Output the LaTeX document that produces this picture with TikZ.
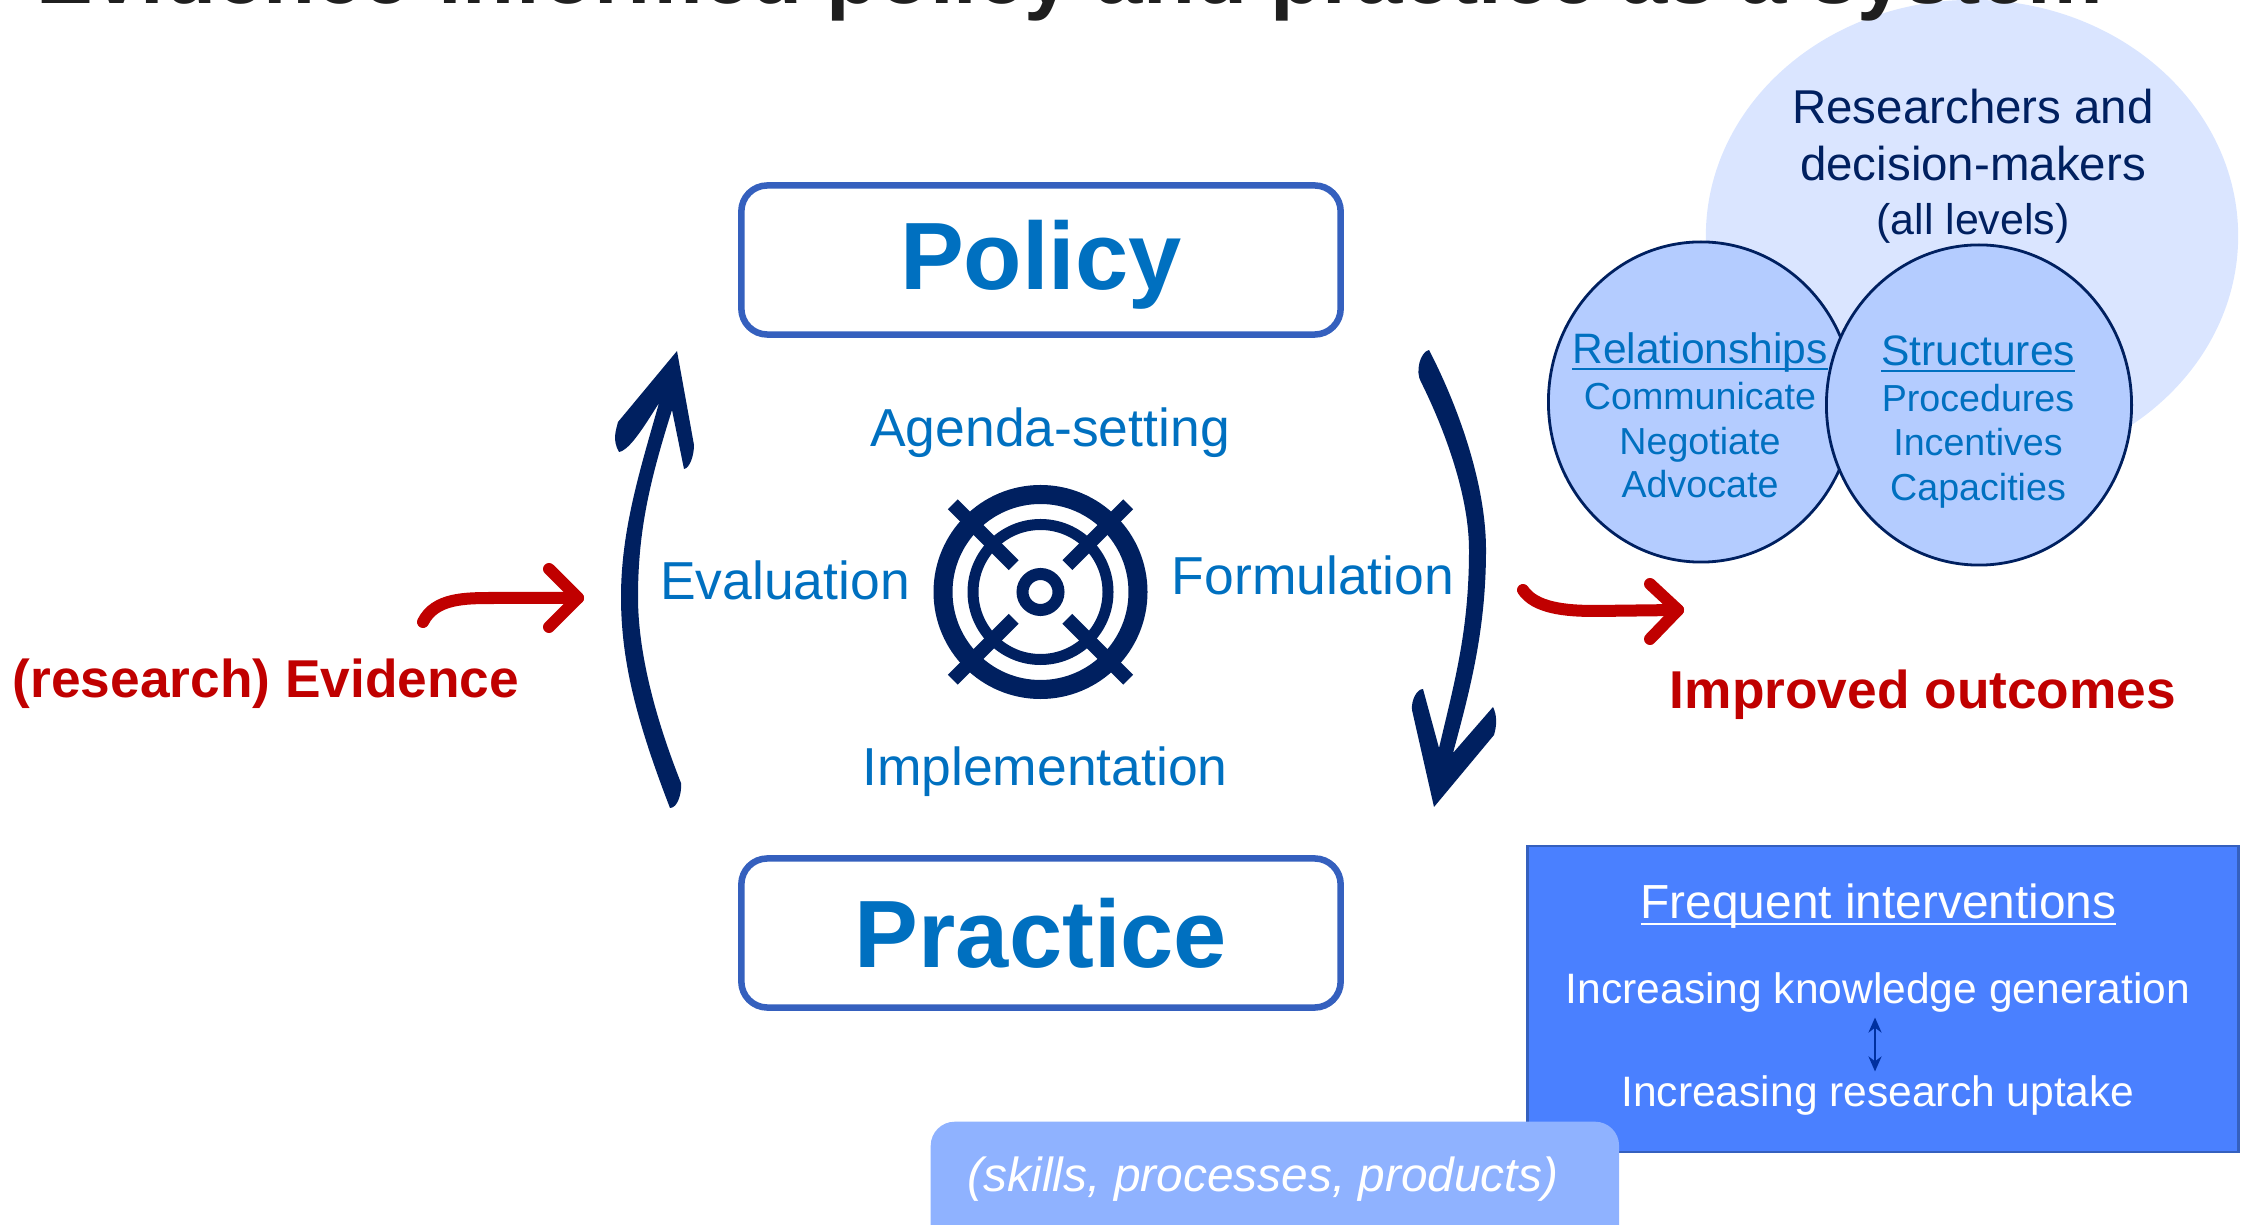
\documentclass[tikz,border=0pt]{standalone}
\usepackage{fontspec}
\setmainfont{Liberation Sans}
\usepackage{tikz}
\usetikzlibrary{arrows.meta, calc, shapes.geometric}
\definecolor{navy}{HTML}{002060}
\definecolor{textblue}{HTML}{0070C0}
\definecolor{edgeblue}{HTML}{3560BE}
\definecolor{evired}{HTML}{C00000}
\definecolor{palecircle}{HTML}{DAE5FF}
\definecolor{midcircle}{HTML}{B4CCFF}
\definecolor{boxblue}{HTML}{4A80FF}
\definecolor{softbox}{HTML}{8FB2FF}
\definecolor{uparrow}{HTML}{0030A0}
\newcommand{\ulined}[1]{\underline{\smash{#1}}}
\tikzset{
  txt/.style = {anchor=base, inner sep=0pt, align=center},
  stage/.style = {txt, text=textblue, font=\fontsize{15.2}{18}\selectfont},
  boxtitle/.style = {draw=edgeblue, line width=0.065cm, fill=white, rounded corners=0.26cm,
    minimum width=5.99cm, minimum height=1.49cm, inner sep=0pt, text=textblue,
    font=\fontsize{27.2}{32}\selectfont\bfseries},
  outcome/.style = {txt, text=evired, font=\fontsize{15.15}{18}\selectfont\bfseries},
  who/.style = {txt, text=navy, font=\fontsize{13.5}{16}\selectfont},
  ringhead/.style = {txt, text=textblue, font=\fontsize{12.1}{14}\selectfont},
  ringitem/.style = {txt, text=textblue, font=\fontsize{10.7}{13}\selectfont},
  ringcircle/.style = {ellipse, draw=navy, line width=0.028cm, fill=midcircle, inner sep=0pt,
    minimum width=3.05cm, minimum height=3.2cm},
  interv/.style = {txt, text=white, font=\fontsize{12.1}{14}\selectfont},
  brush/.style = {fill=navy, draw=none},
  redarrow/.style = {draw=evired, line width=0.12cm, line cap=round, line join=round}
}
\begin{document}
\begin{tikzpicture}[x=0.01cm, y=-0.01cm]
\useasboundingbox (0,0) rectangle (2248,1225);
\clip (0,0) rectangle (2248,1225);

\node [ellipse, fill=palecircle, inner sep=0pt, minimum width=5.32cm, minimum height=4.72cm] (crowd) at (1972,236) {};
\node [txt, text=black!88, font=\fontsize{24.2}{29}\selectfont\bfseries] (title) at (1070,4) {Evidence-informed policy and practice as a system};

\node [boxtitle, text height=0.58cm, text depth=0pt] (policy) at (1041,260) {Policy};
\node [boxtitle, text height=0.68cm, text depth=0pt] (practice) at (1041,933) {Practice};

\node [stage] (agenda) at (1050,447) {Agenda-setting};
\node [stage] (evaluation) at (785,600) {Evaluation};
\node [stage] (formulation) at (1313,595) {Formulation};
\node [stage] (implementation) at (1045,786) {Implementation};

\coordinate (target) at (1040.5,592);
\draw [navy, line width=0.19cm] (target) circle (97.5);
\draw [navy, line width=0.11cm] (target) circle (67.5);
\draw [navy, line width=0.12cm] (target) circle (18);
\foreach \ang in {45,135,225,315}
  \draw [navy, line width=0.14cm] ($(target)+(\ang:38)$) -- ($(target)+(\ang:124)$);

\coordinate (evalTail) at (670,808);
\coordinate (evalTip) at (677,351);
\fill [brush] (evalTail) .. controls (636,720) and (621,660) .. (621,597)
  .. controls (621,530) and (640,470) .. (659,403)
  .. controls (645,425) and (630,450) .. (619,452) .. controls (612,440) and (616,430) .. (618,422)
  -- (evalTip) -- (694,445) .. controls (694,455) and (690,468) .. (684,469)
  -- (672,410) .. controls (650,480) and (638,530) .. (638,597)
  .. controls (638,660) and (660,730) .. (681,783) .. controls (682,792) and (678,808) .. (evalTail) -- cycle;

\coordinate (formTail) at (1429,350);
\coordinate (formTip) at (1434,807);
\fill [brush] (formTail) .. controls (1455,400) and (1486,480) .. (1486,550)
  .. controls (1486,630) and (1470,690) .. (1453,753)
  -- (1493,707) .. controls (1497,715) and (1497,725) .. (1494,735) -- (formTip)
  -- (1412,710) .. controls (1411,700) and (1417,689) .. (1423,689)
  -- (1439,748) .. controls (1455,680) and (1469,630) .. (1469,550)
  .. controls (1469,490) and (1440,420) .. (1421,382) .. controls (1415,372) and (1420,352) .. (formTail) -- cycle;

\coordinate (evidTail) at (423,622);
\coordinate (evidTip) at (578,598);
\coordinate (outTail) at (1523,590);
\coordinate (outTip) at (1678,610);
\draw [redarrow] (evidTail) .. controls (435,598) and (465,598) .. (494,598) -- (evidTip);
\draw [redarrow] (549,569) -- (evidTip) -- (549,627);
\draw [redarrow] (outTail) .. controls (1535,608) and (1565,611) .. (1595,611) -- (outTip);
\draw [redarrow] (1650,584) -- (outTip) -- (1650,639);

\node [outcome] (evidence) at (266,698) {(research) Evidence};
\node [outcome] (improved) at (1923,709) {Improved outcomes};

\node [who] (who1) at (1973,124) {Researchers and};
\node [who] (who2) at (1973,181) {decision-makers};
\node [who, font=\fontsize{12.2}{15}\selectfont] (who3) at (1973,235) {(all levels)};

\node [ringcircle] (relations) at (1701,402) {};
\node [ringcircle] (structures) at (1979,405) {};
\node [ringhead] (relHead) at (1700,364) {\ulined{Relationships}};
\node [ringitem] (rel1) at (1700,410) {Communicate};
\node [ringitem] (rel2) at (1700,455) {Negotiate};
\node [ringitem] (rel3) at (1700,498) {Advocate};
\node [ringhead] (strHead) at (1978,366) {\ulined{Structures}};
\node [ringitem] (str1) at (1978,412) {Procedures};
\node [ringitem] (str2) at (1978,456) {Incentives};
\node [ringitem] (str3) at (1978,501) {Capacities};

\node [draw=edgeblue, line width=0.028cm, fill=boxblue, inner sep=0pt, minimum width=7.1cm, minimum height=3.06cm] (freqbox) at (1883,999) {};
\node [txt, text=white, font=\fontsize{13.6}{16}\selectfont] (freqHead) at (1878.5,919) {\ulined{Frequent interventions}};
\node [interv] (knowledge) at (1878,1003) {Increasing knowledge generation};
\node [interv] (uptake) at (1878,1106) {Increasing research uptake};
\draw [{Stealth[length=0.15cm,width=0.13cm]}-{Stealth[length=0.15cm,width=0.13cm]}, draw=uparrow, line width=0.025cm] ([xshift=-0.03cm,yshift=-0.05cm]knowledge.south) -- ([xshift=-0.03cm,yshift=0.03cm]uptake.north);

\node [fill=softbox, rounded corners=0.24cm, inner sep=0pt, minimum width=6.88cm, minimum height=1.6cm, anchor=north west] (skillbox) at (930,1121) {};
\node [txt, text=white, font=\fontsize{13.6}{16}\selectfont\itshape] (skills) at (1263,1191) {(skills, processes, products)};
\end{tikzpicture}
\end{document}
